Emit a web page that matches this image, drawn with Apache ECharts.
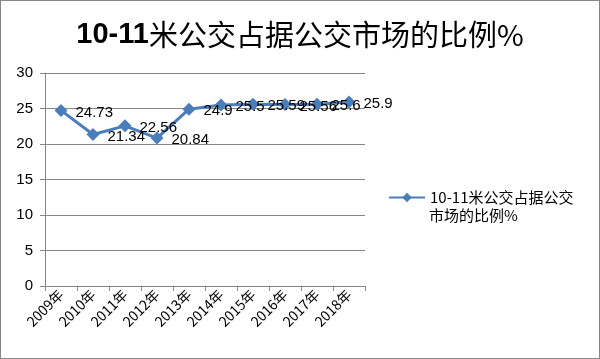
<!DOCTYPE html>
<html><head><meta charset="utf-8">
<script src="https://cdn.jsdelivr.net/npm/echarts@6/dist/echarts.min.js"></script>
<style>html,body{margin:0;padding:0;background:#fff}#c{width:600px;height:359px;box-sizing:border-box;border:1px solid #888}</style>
</head><body><div id="c"></div>
<script>
var categories = ['2009年','2010年','2011年','2012年','2013年','2014年','2015年','2016年','2017年','2018年'];
var values = [24.73, 21.34, 22.56, 20.84, 24.9, 25.5, 25.59, 25.56, 25.6, 25.9];
var seriesName = '10-11米公交占据公交市场的比例%';
var legendLine1 = '10-11米公交占据公交';
var legendLine2 = '市场的比例%';
var yTicks = {min: 0, max: 30, interval: 5};

var chart = echarts.init(document.getElementById('c'));
chart.setOption({
  animation: false,
  title: {
    text: '{b|10-11}{n|米公交占据公交市场的比例%}',
    left: 'center', top: 14,
    textStyle: {
      rich: {
        b: {fontFamily: 'Liberation Sans, Arial', fontWeight: 'bold', fontSize: 29, color: '#000'},
        n: {fontFamily: 'Noto Sans CJK SC', fontWeight: 'normal', fontSize: 29, color: '#000'}
      }
    }
  },
  grid: {left: 44, right: 234, top: 72, bottom: 72, containLabel: false},
  legend: {
    data: [seriesName], orient: 'vertical', left: 387, top: 186, padding: 0,
    itemWidth: 36, itemHeight: 12,
    formatter: function () { return legendLine1; },
    textStyle: {fontFamily: 'Noto Sans CJK SC', fontSize: 15, color: '#000', lineHeight: 21}
  },
  graphic: [{
    type: 'text', left: 428, top: 207,
    style: {text: legendLine2, font: '15px "Noto Sans CJK SC"', fill: '#000'}
  }],
  xAxis: {
    type: 'category', data: categories, boundaryGap: true,
    axisLine: {lineStyle: {color: '#868686'}},
    axisTick: {show: true, length: 5, lineStyle: {color: '#868686'}},
    axisLabel: {rotate: 45, color: '#000', fontFamily: 'Noto Sans CJK SC', fontSize: 14, margin: 6, interval: 0}
  },
  yAxis: {
    type: 'value', min: yTicks.min, max: yTicks.max, interval: yTicks.interval,
    axisLine: {show: true, lineStyle: {color: '#868686'}},
    axisTick: {show: true, inside: false, length: 5, lineStyle: {color: '#868686'}},
    splitLine: {lineStyle: {color: '#868686'}},
    axisLabel: {color: '#000', fontFamily: 'Liberation Sans, Arial', fontSize: 15, margin: 12}
  },
  series: [{
    name: seriesName, type: 'line', data: values,
    symbol: 'diamond', symbolSize: 13,
    lineStyle: {color: '#4A7EBB', width: 3},
    itemStyle: {color: '#4A7EBB'},
    label: {show: true, position: 'right', distance: 8, offset: [0, 2], color: '#000',
      fontFamily: 'Liberation Sans, Arial', fontSize: 15}
  }]
});
</script></body></html>
